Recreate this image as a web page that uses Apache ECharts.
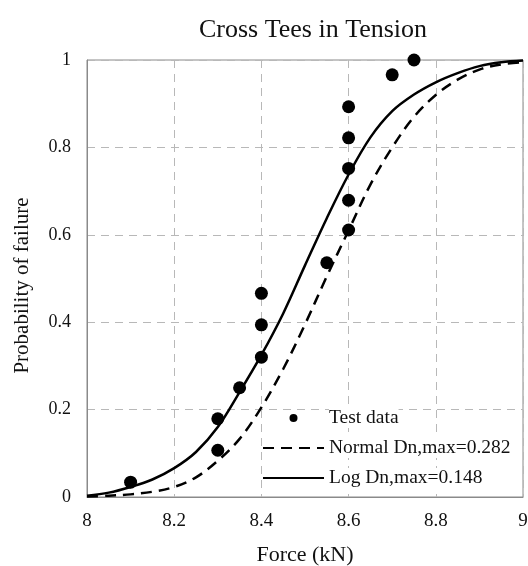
<!DOCTYPE html>
<html>
<head>
<meta charset="utf-8">
<script src="https://cdn.jsdelivr.net/npm/echarts@6/dist/echarts.min.js"></script>
<style>
  html, body { margin: 0; padding: 0; background: #fff; }
  #chart { width: 528px; height: 566px; }
</style>
</head>
<body>
<div id="chart"></div>
<script>
// test points (force kN, probability)
var testForce = [8.1, 8.3, 8.3, 8.35, 8.4, 8.4, 8.4, 8.55, 8.6, 8.6, 8.6, 8.6, 8.6, 8.7, 8.75];
var testProb  = [0.034, 0.107, 0.179, 0.25, 0.32, 0.394, 0.466, 0.536, 0.611, 0.679, 0.752, 0.822, 0.893, 0.966, 1.0];

// fitted curves
var curveForce = [8.0, 8.05, 8.1, 8.15, 8.2, 8.25, 8.3, 8.35, 8.4, 8.45, 8.5, 8.55, 8.6, 8.65, 8.7, 8.75, 8.8, 8.85, 8.9, 8.95, 9.0];
var normalProb = [0.001, 0.003, 0.006, 0.012, 0.023, 0.045, 0.083, 0.133, 0.205, 0.293, 0.395, 0.505, 0.61, 0.715, 0.80, 0.87, 0.92, 0.955, 0.978, 0.99, 0.995];
var logProb    = [0.003, 0.010, 0.023, 0.040, 0.066, 0.103, 0.16, 0.24, 0.325, 0.42, 0.53, 0.638, 0.738, 0.823, 0.883, 0.921, 0.949, 0.97, 0.986, 0.995, 0.999];

var xTicks = [8, 8.2, 8.4, 8.6, 8.8, 9];
var yTicks = [0, 0.2, 0.4, 0.6, 0.8, 1];

var names = ['Test data', 'Normal Dn,max=0.282', 'Log Dn,max=0.148'];

function pairs(xs, ys) {
    var out = [];
    for (var i = 0; i < xs.length; i++) out.push([xs[i], ys[i]]);
    return out;
}

var font = '"Liberation Serif", "Times New Roman", serif';
var chart = echarts.init(document.getElementById('chart'));

var option = {
    backgroundColor: '#fff',
    animation: false,
    title: {
        text: 'Cross Tees in Tension',
        left: 308,
        textAlign: 'center',
        top: 12,
        textStyle: { fontFamily: font, fontSize: 26, fontWeight: 'normal', color: '#111' }
    },
    grid: {
        left: 87, right: 5, top: 60, bottom: 69,
        outerBoundsMode: 'none',
        show: true, borderColor: '#8a8a8a', borderWidth: 1
    },
    legend: {
        orient: 'vertical',
        left: 257,
        top: 403,
        itemWidth: 61,
        itemHeight: 8,
        itemGap: 10,
        textStyle: { fontFamily: font, fontSize: 19.5, color: '#111', backgroundColor: '#fff' },
        data: [
            { name: names[0], icon: 'circle' },
            { name: names[1], itemStyle: { opacity: 0 } },
            { name: names[2], itemStyle: { opacity: 0 } }
        ]
    },
    xAxis: {
        type: 'value',
        min: 8, max: 9, interval: 0.2,
        name: 'Force (kN)',
        nameLocation: 'middle',
        nameGap: 47,
        nameTextStyle: { fontFamily: font, fontSize: 22, color: '#111' },
        axisLine: { lineStyle: { color: '#8a8a8a' } },
        axisTick: { show: false },
        axisLabel: {
            margin: 15, fontFamily: font, fontSize: 19, color: '#111',
            formatter: function (v) { return xTicks.indexOf(+v.toFixed(1)) >= 0 ? String(+v.toFixed(1)) : ''; }
        },
        splitLine: { show: true, lineStyle: { color: '#b8b8b8', type: [8, 6] } }
    },
    yAxis: {
        type: 'value',
        min: 0, max: 1, interval: 0.2,
        name: 'Probability of failure',
        nameLocation: 'middle',
        nameGap: 54,
        nameTextStyle: { fontFamily: font, fontSize: 21, color: '#111', padding: [0, 14, 0, 0] },
        axisLine: { show: true, lineStyle: { color: '#8a8a8a' } },
        axisTick: { show: false },
        axisLabel: {
            margin: 16, fontFamily: font, fontSize: 18, color: '#111',
            formatter: function (v) { return yTicks.indexOf(+v.toFixed(1)) >= 0 ? String(+v.toFixed(1)) : ''; }
        },
        splitLine: { show: true, lineStyle: { color: '#b8b8b8', type: [8, 6] } }
    },
    series: [
        {
            name: names[0],
            type: 'scatter',
            symbol: 'circle',
            symbolSize: 13,
            itemStyle: { color: '#000', opacity: 1 },
            data: pairs(testForce, testProb),
            z: 3
        },
        {
            name: names[1],
            type: 'line',
            smooth: 0.35,
            showSymbol: false,
            symbol: 'none',
            lineStyle: { color: '#000', width: 2.5, type: [11, 7] },
            itemStyle: { color: '#000' },
            data: pairs(curveForce, normalProb)
        },
        {
            name: names[2],
            type: 'line',
            smooth: 0.35,
            showSymbol: false,
            symbol: 'none',
            lineStyle: { color: '#000', width: 2.5 },
            itemStyle: { color: '#000' },
            data: pairs(curveForce, logProb)
        }
    ]
};

chart.setOption(option);
</script>
</body>
</html>
